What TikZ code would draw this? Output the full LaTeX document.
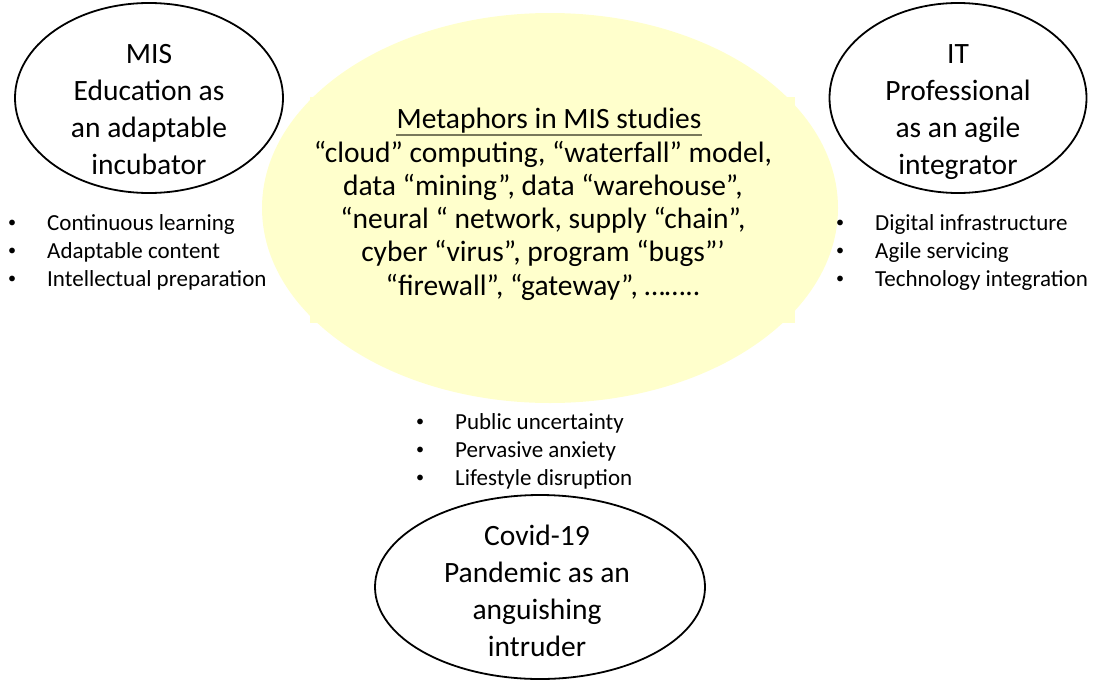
\documentclass[tikz,border=0pt]{standalone}
\usepackage{fontspec}
\setmainfont{Carlito}
\usetikzlibrary{shapes.geometric}
\definecolor{paleyellow}{RGB}{255,255,204}
\definecolor{rulegray}{RGB}{120,120,90}
% small bullet hung to the left of each list line
\newcommand{\bitem}[1]{\llap{\raisebox{2.3pt}{\scalebox{0.7}{\textbullet}}\hspace{31pt}}#1}
\begin{document}
\begin{tikzpicture}[x=1pt,y=-1pt,
  oval/.style={draw=black, line width=1.8pt, ellipse, inner sep=0pt},
  ovaltext/.style={font=\fontsize{29.5}{37}\selectfont, align=center, anchor=base, inner sep=0pt},
  cloudtext/.style={font=\fontsize{29.5}{33.2}\selectfont, align=center, anchor=base, inner sep=0pt},
  bulletlist/.style={font=\fontsize{23}{28}\selectfont, align=left, anchor=base west, inner sep=0pt}]
\useasboundingbox (0,0) rectangle (1094,680);

% central metaphor cloud (multi-line nodes sit on their last baseline)
\node[ellipse, fill=paleyellow, minimum width=576, minimum height=390, inner sep=0pt] (metaphor) at (550,208) {};
\node[fill=paleyellow, minimum width=485, minimum height=226, inner sep=0pt] (panel) at (552.5,210) {};
\node[cloudtext] (title) at (549,128) {Metaphors in MIS studies};
\draw[rulegray, line width=1.4pt] ([yshift=-7pt]title.base west) -- ([yshift=-7pt]title.base east);
\node[cloudtext] (examples) at (543,295) {“cloud” computing, “waterfall” model,\\
data “mining”, data “warehouse”,\\
“neural “ network, supply “chain”,\\
cyber “virus”, program “bugs”’\\
“firewall”, “gateway”, ……..};

% the three surrounding ovals
\node[oval, minimum width=268, minimum height=190] (mis) at (149,98) {};
\node[ovaltext] (mistext) at (149,174) {MIS\\Education as\\an adaptable\\incubator};

\node[oval, minimum width=257, minimum height=190] (it) at (958,98) {};
\node[ovaltext] (ittext) at (958,174) {IT\\Professional\\as an agile\\integrator};

\node[oval, minimum width=330, minimum height=184] (covid) at (540,587) {};
\node[ovaltext] (covidtext) at (537,656) {Covid-19\\Pandemic as an\\anguishing\\intruder};

% bullet lists
\node[bulletlist] (misitems) at (47,286) {\bitem{Continuous learning}\\\bitem{Adaptable content}\\\bitem{Intellectual preparation}};
\node[bulletlist] (ititems) at (875,286) {\bitem{Digital infrastructure}\\\bitem{Agile servicing}\\\bitem{Technology integration}};
\node[bulletlist] (covititems) at (455,485) {\bitem{Public uncertainty}\\\bitem{Pervasive anxiety}\\\bitem{Lifestyle disruption}};
\end{tikzpicture}
\end{document}
